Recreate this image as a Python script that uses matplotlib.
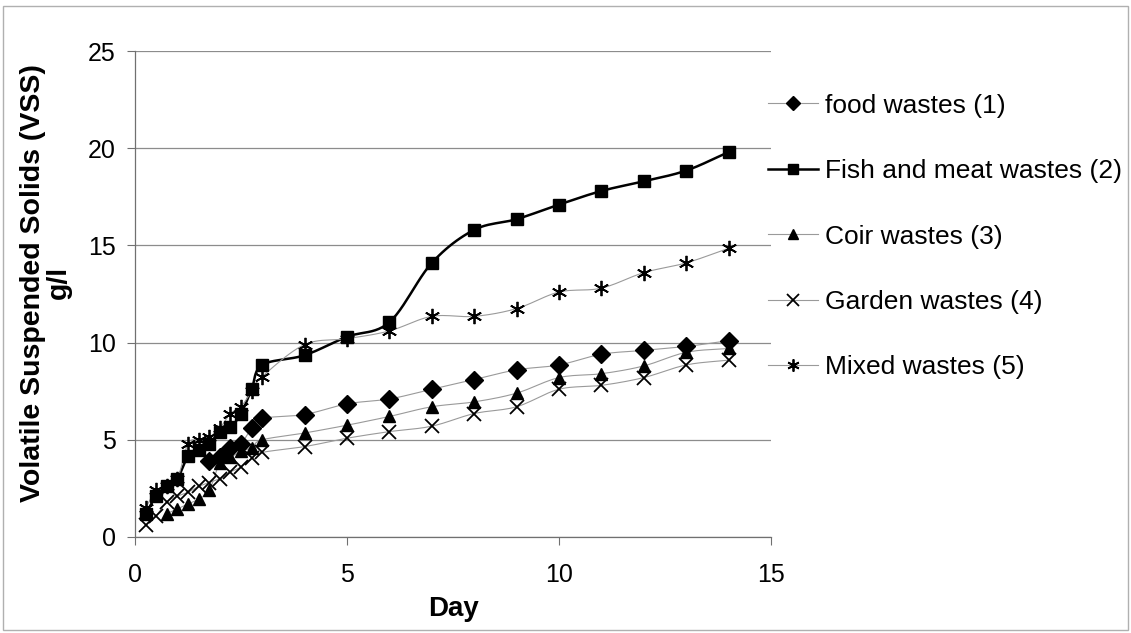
import numpy as np
import matplotlib
matplotlib.use('Agg')
import matplotlib.pyplot as plt
from matplotlib.lines import Line2D
from matplotlib.patches import Rectangle

plt.rcParams['font.family'] = ['Liberation Sans', 'DejaVu Sans']

# sampling days (every 6 h up to day 3, then daily)
days = [0.25, 0.5, 0.75, 1.0, 1.25, 1.5, 1.75, 2.0, 2.25, 2.5, 2.75, 3.0,
        4, 5, 6, 7, 8, 9, 10, 11, 12, 13, 14]

food_days = [1.75, 2.0, 2.25, 2.5, 2.75, 3.0, 4, 5, 6, 7, 8, 9, 10, 11, 12, 13, 14]
food = [3.9, 4.1, 4.6, 4.8, 5.6, 6.1, 6.3, 6.85, 7.1, 7.6, 8.1, 8.6, 8.85, 9.4, 9.6, 9.8, 10.1]

fish = [1.2, 2.1, 2.6, 3.0, 4.15, 4.45, 4.8, 5.4, 5.65, 6.35, 7.6, 8.85,
        9.35, 10.3, 11.05, 14.1, 15.8, 16.35, 17.1, 17.8, 18.3, 18.85, 19.8]

coir_days = [0.75, 1.0, 1.25, 1.5, 1.75, 2.0, 2.25, 2.5, 2.75, 3.0,
             4, 5, 6, 7, 8, 9, 10, 11, 12, 13, 14]
coir = [1.2, 1.45, 1.7, 1.95, 2.4, 3.8, 4.1, 4.4, 4.6, 5.0,
        5.35, 5.75, 6.2, 6.7, 6.95, 7.4, 8.2, 8.4, 8.8, 9.5, 9.7]

garden = [0.6, 1.1, 1.8, 2.1, 2.3, 2.6, 2.8, 3.0, 3.35, 3.6, 4.05, 4.35,
          4.65, 5.08, 5.42, 5.7, 6.35, 6.7, 7.6, 7.8, 8.2, 8.85, 9.1]

mixed = [1.5, 2.4, 2.6, 3.0, 4.8, 5.0, 5.15, 5.6, 6.35, 6.7, 7.5, 8.25,
         9.9, 10.2, 10.6, 11.35, 11.35, 11.75, 12.6, 12.8, 13.6, 14.1, 14.85]


def smooth(x, y, n=12):
    """Catmull-Rom curve through the points (like Excel smoothed lines)."""
    x = np.asarray(x, float)
    y = np.asarray(y, float)
    px = np.concatenate([[2 * x[0] - x[1]], x, [2 * x[-1] - x[-2]]])
    py = np.concatenate([[2 * y[0] - y[1]], y, [2 * y[-1] - y[-2]]])
    xs, ys = [], []
    t = np.linspace(0, 1, n, endpoint=False)
    for i in range(1, len(px) - 2):
        p0, p1, p2, p3 = [np.array([px[j], py[j]]) for j in range(i - 1, i + 3)]
        for tt in t:
            pt = 0.5 * ((2 * p1) + (-p0 + p2) * tt + (2 * p0 - 5 * p1 + 4 * p2 - p3) * tt ** 2
                        + (-p0 + 3 * p1 - 3 * p2 + p3) * tt ** 3)
            xs.append(pt[0])
            ys.append(pt[1])
    xs.append(x[-1])
    ys.append(y[-1])
    return xs, ys


fig = plt.figure(figsize=(11.31, 6.33), dpi=100)
ax = fig.add_axes([0.1194, 0.1517, 0.5623, 0.7677])

series = [
    ('food wastes (1)', food_days, food, 'D', 9.5, '#9a9a9a', 0.8, 1.0),
    ('Fish and meat wastes (2)', days, fish, 's', 8.5, 'black', 1.8, 1.0),
    ('Coir wastes (3)', coir_days, coir, '^', 9, '#9a9a9a', 0.8, 1.0),
    ('Garden wastes (4)', days, garden, 'x', 10, '#9a9a9a', 0.8, 1.3),
    ('Mixed wastes (5)', days, mixed, (6, 2, 0), 11, '#9a9a9a', 0.8, 1.3),
]

handles = []
for label, xd, yd, mk, ms, lc, lw, mew in series:
    sx, sy = smooth(xd, yd)
    ax.plot(sx, sy, color=lc, lw=lw, zorder=2)
    ax.plot(xd, yd, linestyle='none', marker=mk, markersize=ms, color='black',
            markeredgewidth=mew, zorder=3)
    handles.append(Line2D([], [], color=lc, lw=lw, marker=mk, markersize=ms * 0.8,
                          markerfacecolor='black', markeredgecolor='black',
                          markeredgewidth=mew, label=label))

ax.set_xlim(0, 15)
ax.set_ylim(0, 25)
ax.set_xticks([0, 5, 10, 15])
ax.set_yticks([0, 5, 10, 15, 20, 25])
ax.yaxis.grid(True, color='#8c8c8c', lw=0.9)
ax.set_axisbelow(True)
for s in ['top', 'right']:
    ax.spines[s].set_visible(False)
for s in ['left', 'bottom']:
    ax.spines[s].set_color('#707070')
    ax.spines[s].set_linewidth(0.9)
ax.tick_params(axis='both', direction='out', length=6, color='#707070', labelsize=18, pad=8)
ax.tick_params(axis='x', pad=13)

ax.set_xlabel('Day', fontsize=20, fontweight='bold', labelpad=6)
ax.set_ylabel('Volatile Suspended Solids (VSS)\ng/l', fontsize=20.5, fontweight='bold',
              linespacing=0.95)
ax.yaxis.set_label_coords(-0.1, 0.523)

fig.legend(handles=handles, loc='upper left', bbox_to_anchor=(0.679, 0.852),
           frameon=False, fontsize=19, handlelength=1.9, handletextpad=0.25,
           labelspacing=1.57, borderpad=0, borderaxespad=0)

fig.patches.append(Rectangle((0.003, 0.005), 0.994, 0.985, transform=fig.transFigure,
                             fill=False, edgecolor='#b0b0b0', lw=1))

fig.savefig('out.png', dpi=100)
